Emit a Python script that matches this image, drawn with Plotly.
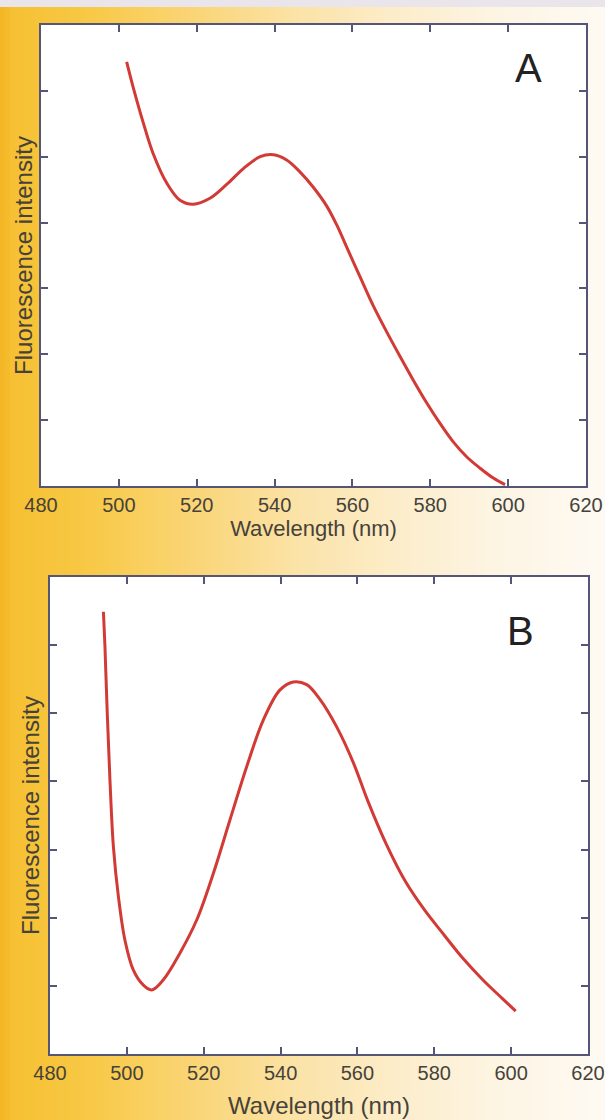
import plotly.graph_objects as go

# ---------------- data ----------------
wl_a = [502.0, 503.7, 506.3, 508.8, 512.3, 515.7, 519.1, 523.4, 527.7, 532.0,
        536.3, 539.7, 543.1, 546.5, 549.9, 553.4, 556.0, 558.5, 562.0, 565.4,
        568.8, 572.2, 575.6, 579.1, 582.5, 585.9, 589.4, 592.8, 596.2, 599.2]
int_a = [6.44, 6.05, 5.51, 5.05, 4.60, 4.34, 4.28, 4.37, 4.58, 4.82,
         5.00, 5.03, 4.95, 4.77, 4.54, 4.25, 3.96, 3.63, 3.17, 2.73,
         2.34, 1.97, 1.61, 1.26, 0.95, 0.67, 0.44, 0.27, 0.12, 0.02]

wl_b = [493.9, 494.3, 494.9, 495.6, 496.5, 497.8, 499.5, 501.7, 504.3, 506.5,
        509.5, 513.8, 518.2, 522.5, 526.8, 531.2, 535.5, 539.8, 543.3, 546.8,
        550.3, 554.6, 558.9, 562.8, 567.5, 572.5, 577.5, 582.5, 587.5, 592.6,
        597.6, 601.2]
int_b = [6.49, 5.98, 5.00, 4.02, 3.04, 2.31, 1.67, 1.23, 1.01, 0.94,
         1.09, 1.48, 1.97, 2.65, 3.43, 4.22, 4.90, 5.34, 5.46, 5.42,
         5.20, 4.80, 4.28, 3.70, 3.08, 2.53, 2.11, 1.75, 1.40, 1.09,
         0.82, 0.63]

x_ticks = [480, 500, 520, 540, 560, 580, 600, 620]
y_ticks = [1, 2, 3, 4, 5, 6]
x_title = "Wavelength (nm)"
y_title = "Fluorescence intensity"
panel_labels = ["A", "B"]

# ---------------- figure ----------------
W, H = 605, 1120
fig = go.Figure()

LINE = "#d23a35"
fig.add_trace(go.Scatter(x=wl_a, y=int_a, mode="lines", xaxis="x", yaxis="y",
                         line=dict(color=LINE, width=3, shape="spline", smoothing=1.0),
                         showlegend=False, hoverinfo="skip"))
fig.add_trace(go.Scatter(x=wl_b, y=int_b, mode="lines", xaxis="x2", yaxis="y2",
                         line=dict(color=LINE, width=3, shape="spline", smoothing=1.0),
                         showlegend=False, hoverinfo="skip"))

# panel geometry in pixels
A = dict(l=41, r=586, t=25, b=486)
B = dict(l=50, r=588, t=577, b=1054)


def xdom(p):
    return [p["l"] / W, p["r"] / W]


def ydom(p):
    return [1 - p["b"] / H, 1 - p["t"] / H]


AX = "#555578"
TXT = "#46423a"
FONT = "Liberation Sans, Arial, sans-serif"


def x_axis(p, yref, tick_size, title_size, standoff):
    return dict(domain=xdom(p), anchor=yref, range=[480, 620], tickmode="array",
                tickvals=x_ticks, ticktext=[str(v) for v in x_ticks],
                ticks="inside", ticklen=7, tickwidth=2, tickcolor=AX,
                showline=True, linecolor=AX, linewidth=2, mirror="ticks",
                showgrid=False, zeroline=False, automargin=False,
                ticklabeloverflow="allow",
                tickfont=dict(family=FONT, size=tick_size, color=TXT),
                title=dict(text=x_title, standoff=standoff,
                           font=dict(family=FONT, size=title_size, color=TXT)))


def y_axis(p, xref, title_size, standoff):
    return dict(domain=ydom(p), anchor=xref, range=[0, 7], tickmode="array",
                tickvals=y_ticks, ticks="inside", ticklen=7, tickwidth=2,
                tickcolor=AX, showline=True, linecolor=AX, linewidth=2,
                mirror="ticks", showgrid=False, zeroline=False,
                showticklabels=False, automargin=False,
                title=dict(text=y_title, standoff=standoff,
                           font=dict(family=FONT, size=title_size, color=TXT)))


fig.update_layout(
    width=W, height=H,
    autosize=False,
    margin=dict(l=0, r=0, t=0, b=0, pad=0),
    paper_bgcolor="#fdf8ee",
    plot_bgcolor="white",
    showlegend=False,
    xaxis=x_axis(A, "y", 20, 22, 3),
    yaxis=y_axis(A, "x", 24, 0),
    xaxis2=x_axis(B, "y2", 20, 24, 14),
    yaxis2=y_axis(B, "x2", 24, 2),
)

# ---------------- background gradient (orange -> cream) ----------------
stops = [(0, (242, 181, 34)), (12, (246, 192, 50)), (100, (248, 202, 74)),
         (200, (250, 214, 122)), (300, (251, 227, 168)), (400, (252, 237, 203)),
         (500, (253, 245, 228)), (605, (254, 250, 243))]


def col_at(px):
    for (x0, c0), (x1, c1) in zip(stops[:-1], stops[1:]):
        if x0 <= px <= x1:
            t = (px - x0) / (x1 - x0)
            return "rgb(%d,%d,%d)" % tuple(round(a + (b - a) * t) for a, b in zip(c0, c1))
    return "rgb(%d,%d,%d)" % stops[-1][1]


shapes = []
step = 5
for px in range(0, W, step):
    shapes.append(dict(type="rect", xref="paper", yref="paper", layer="below",
                       x0=px / W, x1=min(px + step + 1, W) / W, y0=0, y1=1,
                       fillcolor=col_at(px + step / 2), line=dict(width=0)))
# light top strip
shapes.append(dict(type="rect", xref="paper", yref="paper", layer="below",
                   x0=0, x1=1, y0=1 - 7 / H, y1=1, fillcolor="#e9e5ea",
                   line=dict(width=0)))
# white plotting areas
for p in (A, B):
    shapes.append(dict(type="rect", xref="paper", yref="paper", layer="below",
                       x0=p["l"] / W, x1=p["r"] / W, y0=1 - p["b"] / H, y1=1 - p["t"] / H,
                       fillcolor="white", line=dict(width=0)))
fig.update_layout(shapes=shapes)

# panel letters
fig.add_annotation(x=528 / W, y=1 - 68 / H, xref="paper", yref="paper",
                   text=panel_labels[0], showarrow=False,
                   font=dict(family=FONT, size=40, color="#222222"),
                   xanchor="center", yanchor="middle")
fig.add_annotation(x=520 / W, y=1 - 631 / H, xref="paper", yref="paper",
                   text=panel_labels[1], showarrow=False,
                   font=dict(family=FONT, size=40, color="#222222"),
                   xanchor="center", yanchor="middle")

fig.write_html(
    "out.html",
    config={"displayModeBar": False, "responsive": False},
    post_script="document.body.style.margin='0';document.body.style.padding='0';"
                "document.body.style.overflow='hidden';"
                "document.documentElement.style.overflow='hidden';",
)
